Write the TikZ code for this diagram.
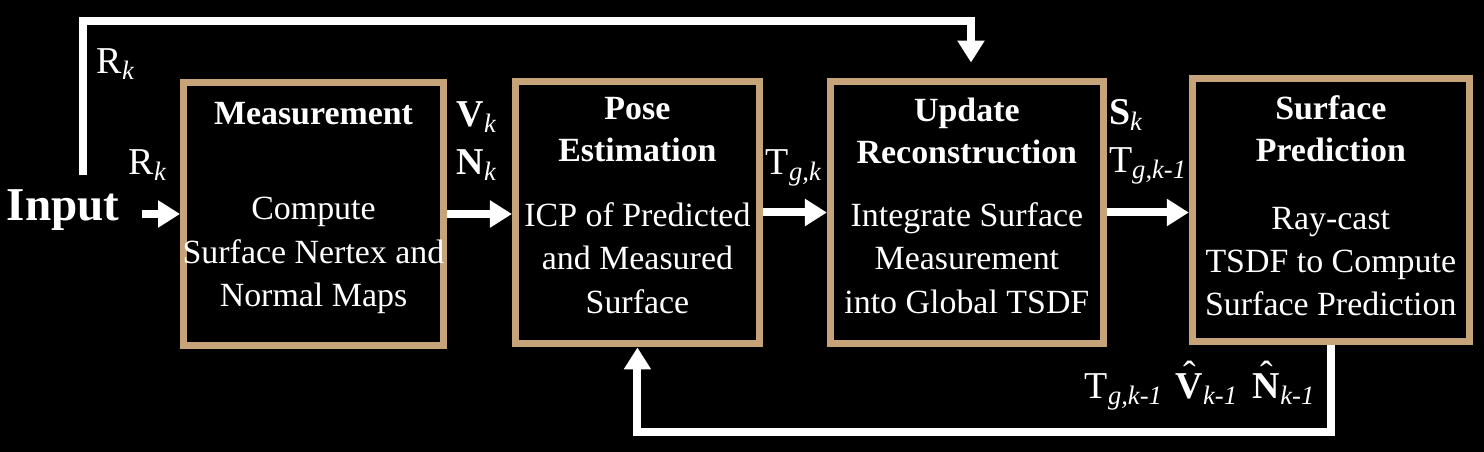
\documentclass[tikz,border=0pt]{standalone}
\usepackage{fontspec}
\setmainfont{Liberation Serif}
\usepackage{xcolor}
\usetikzlibrary{arrows.meta, positioning}
\definecolor{boxtan}{RGB}{198,163,120}
\newcommand{\ksub}[1]{\textsubscript{\textit{#1}}}
\newcommand{\hatbf}[1]{\ooalign{\textbf{#1}\cr\hidewidth\raisebox{0.3em}{\char"02C6}\hidewidth\cr}}

\begin{document}
\begin{tikzpicture}[
  x=0.02cm, y=-0.02cm,
  node distance = 1.3cm,
  stage/.style   = {rectangle, draw=boxtan, line width=0.14cm, fill=black,
                    inner sep=0pt, minimum height=5.26cm},
  heading/.style = {font=\fontsize{19.3}{24}\selectfont\bfseries, text=white,
                    align=center, inner sep=0pt},
  detail/.style  = {font=\fontsize{19.3}{24.6}\selectfont, text=white,
                    align=center, inner sep=0pt},
  lab/.style     = {font=\fontsize{21.6}{27.3}\selectfont, text=white,
                    align=left, inner sep=0pt},
  arr/.style     = {-{Triangle[length=0.44cm, width=0.52cm]}, line width=0.16cm, white}
]
\fill[black] (0,0) rectangle (1484,452);
\useasboundingbox (0,0) rectangle (1484,452);

% ── Stages ───────────────────────────────────────────────────────────────────
\node[stage, minimum width=5.2cm] (meas) at (313.5,214) {};
\node[stage, minimum width=4.88cm, right=1.3cm of meas, yshift=0.03cm] (pose) {};
\node[stage, minimum width=5.46cm, right=1.28cm of pose] (upd) {};
\node[stage, minimum width=5.54cm, right=1.64cm of upd, yshift=0.05cm] (pred) {};

% ── Stage texts ──────────────────────────────────────────────────────────────
\node[heading, below=0.46cm of meas.north] (measT) {Measurement};
\node[detail,  below=2.36cm of meas.north] (measB) {Compute\\Surface Nertex and\\Normal Maps};

\node[heading, below=0.38cm of pose.north] (poseT) {Pose\\Estimation};
\node[detail,  below=2.5cm of pose.north]  (poseB) {ICP of Predicted\\and Measured\\Surface};

\node[heading, below=0.4cm of upd.north] (updT) {Update\\Reconstruction};
\node[detail,  below=2.5cm of upd.north] (updB) {Integrate Surface\\Measurement\\into Global TSDF};

\node[heading, below=0.4cm of pred.north] (predT) {Surface\\Prediction};
\node[detail,  below=2.64cm of pred.north] (predB) {Ray-cast\\TSDF to Compute\\Surface Prediction};

% ── Input and labels ─────────────────────────────────────────────────────────
\node[font=\fontsize{26.8}{30}\selectfont\bfseries, text=white, inner sep=0pt]
     (inp) at (63,210) {Input};
\node[lab] (rtop) at (116,64)  {R\ksub{k}};
\node[lab] (rin)  at (148,165) {R\ksub{k}};
\node[lab] (vn)   at (477,141) {\textbf{V}\ksub{k}\\\textbf{N}\ksub{k}};
\node[lab] (tgk)  at (794,168) {T\ksub{g,k}};
\node[lab] (st)   at (1148,142) {\textbf{S}\ksub{k}\\T\ksub{g,k-1}};
\node[lab] (back) at (1200,392)
     {T\ksub{g,k-1}\hspace{0.26cm}\hatbf{V}\ksub{k-1}\hspace{0.3cm}\hatbf{N}\ksub{k-1}};

% ── Main chain ───────────────────────────────────────────────────────────────
\draw[arr, shorten <=0.44cm] (inp.east |- meas.west) -- (meas.west);
\draw[arr] (meas.east) -- (meas.east -| pose.west);
\draw[arr] (pose.east) -- (pose.east -| upd.west);
\draw[arr] (upd.east)  -- (upd.east -| pred.west);

% ── Feedback lines ───────────────────────────────────────────────────────────
\coordinate (tap)  at (83,175);
\coordinate (topc) at (971,21.5);
\draw[arr, shorten >=0.3cm] (tap) |- (topc) -- (topc |- upd.north);
\draw[arr] (pred.south) -- ++(0,87) -| (pose.south);
\end{tikzpicture}
\end{document}
